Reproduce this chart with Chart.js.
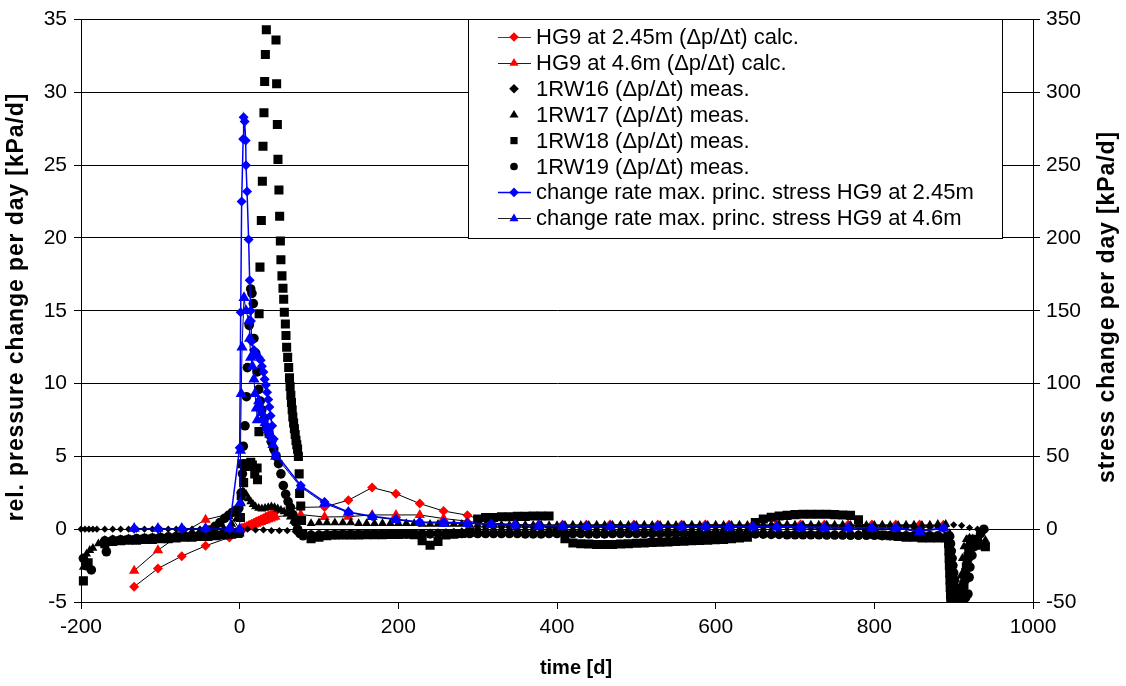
<!DOCTYPE html>
<html><head><meta charset="utf-8">
<script src="https://cdn.jsdelivr.net/npm/chart.js@4/dist/chart.umd.min.js"></script>
<style>html,body{margin:0;padding:0;background:#fff;}#wrap{width:1126px;height:686px;}</style>
</head><body><div id="wrap"><canvas id="c" width="1126" height="686"></canvas></div>
<script>
// ---------- tick labels ----------
const xTicks = [-200, 0, 200, 400, 600, 800, 1000];
const yTicks = [-5, 0, 5, 10, 15, 20, 25, 30, 35];
const y2Ticks = [-50, 0, 50, 100, 150, 200, 250, 300, 350];
const xTitle = 'time [d]';
const yTitle = 'rel. pressure change per day [kPa/d]';
const y2Title = 'stress change per day [kPa/d]';
const seriesNames = [
  'HG9 at 2.45m (\u0394p/\u0394t) calc.',
  'HG9 at 4.6m (\u0394p/\u0394t) calc.',
  '1RW16 (\u0394p/\u0394t) meas.',
  '1RW17 (\u0394p/\u0394t) meas.',
  '1RW18 (\u0394p/\u0394t) meas.',
  '1RW19 (\u0394p/\u0394t) meas.',
  'change rate max. princ. stress HG9 at 2.45m',
  'change rate max. princ. stress HG9 at 4.6m'
];

// ---------- calculated series (HG9) ----------
const calcEarlyDays = [-133, -103, -73, -43, -13];
const calcLateDays = [77,107,137,167,197,227,257,287,317,347,377,407,437,467,497,527,557,587,617,647,677,707,737,767,797,827,857,887];
const calcOnsetDays = [0,3,6,9,12,15,18,21,24,27,30,33,36,39,42,45];

const hg245Early = [-3.95, -2.7, -1.85, -1.14, -0.57];
const hg245Onset = [0.0,0.06,0.12,0.2,0.28,0.36,0.45,0.53,0.6,0.68,0.76,0.85,0.93,1.0,1.08,1.18];
const hg245Late = [1.5,1.53,1.99,2.86,2.44,1.76,1.25,0.96,0.42,0.33,0.3,0.3,0.3,0.32,0.3,0.3,0.3,0.32,0.3,0.3,0.3,0.32,0.3,0.3,0.3,0.3,0.3,0.28];

const hg46Early = [-2.85, -1.44, -0.3, 0.65, 1.05];
const hg46Onset = [0.0,0.04,0.09,0.14,0.2,0.26,0.32,0.38,0.44,0.5,0.56,0.62,0.68,0.74,0.8,0.86];
const hg46Late = [1.0,0.84,0.86,0.98,0.98,0.98,0.73,0.55,0.32,0.26,0.25,0.25,0.25,0.26,0.25,0.25,0.25,0.26,0.25,0.25,0.25,0.26,0.25,0.25,0.25,0.25,0.25,0.24];

// stress change rates (right axis, kPa/d)
const s245Early = [0.3, 0.3, 0.3, 0.3, 0.3];
const s245PeakDays = [0,1.3,2.5,4.4,5,6.3,7.6,8,9.3,11.3,12.6,13.9,14.2,15,18,21,24,26.5,28,30,31.5,33,34.5,36,37.5,39,41,43,45.4];
const s245Peak = [56,149,225,268,283,280,267,250,232,199,171,150,143,129,123,120,118,116,112,108,103,99,94,89,84,78,71,62,52];
const s245Late = [30,18.7,11.9,8.9,6.8,5.0,4.7,4.3,3.5,2.7,2.5,2.4,2.2,2.1,2.0,2.0,1.9,1.9,1.8,1.8,1.7,1.5,1.2,1.0,1.0,1.0,-1.0,0.8];

const s46Early = [0.5, 0.5, 0.5, 0.5, 0.5];
const s46PeakDays = [0,0.5,1,2,3,5.5,8,11.7,12.6,13.9,16,18,19.3,21,22.3,24,26,28,30,32,34,36,38,40,42,45.4];
const s46Peak = [0,18,54,93,125,159,150,143,131,118,112,103,93,83,75,88,84,80,76,73,70,68,65,62,58,50];
const s46Late = [29,17.6,11.5,8.5,6.5,4.5,4.0,4.0,3.0,2.7,2.0,1.8,1.6,1.6,1.5,1.5,1.5,1.5,1.4,1.4,1.4,0.8,0.6,0.6,0.6,0.6,-1.8,0.5];

// ---------- measured series (1RW16..19) ----------
const measDays = [-170,-160,-150,-140,-130,-120,-110,-100,-90,-80,
 -70,-60,-50,-40,-30,-20,-10,0,10,20,
 30,40,50,60,70,80,90,100,110,120,
 130,140,150,160,170,180,190,200,210,220,
 230,240,250,260,270,280,290,300,310,320,
 330,340,350,360,370,380,390,400,410,420,
 430,440,450,460,470,480,490,500,510,520,
 530,540,550,560,570,580,590,600,610,620,
 630,640,650,660,670,680,690,700,710,720,
 730,740,750,760,770,780,790,800,810,820,
 830,840,850,860,870,880,890,900,910,920,
 930,940];

const rw16Rate = [0,0,0,0,0,0,0,0,0,0,
 0,0,0,0,0,0,0.02,0.05,0,-0.05,
 -0.05,-0.1,-0.1,-0.1,-0.15,-0.25,-0.3,-0.3,-0.3,-0.3,
 -0.3,-0.28,-0.28,-0.27,-0.27,-0.26,-0.25,-0.25,-0.24,-0.23,
 -0.22,-0.2,-0.2,-0.18,-0.15,-0.12,-0.1,0.05,0.08,0.1,
 0.1,0.1,0.12,0.12,0.1,0.1,0.1,0.1,0.12,0.12,
 0.1,0.1,0.1,0.12,0.12,0.1,0.1,0.1,0.12,0.12,
 0.1,0.1,0.12,0.12,0.1,0.1,0.12,0.12,0.1,0.1,
 0.12,0.12,0.1,0.1,0.15,0.15,0.15,0.12,0.12,0.1,
 0.1,0.12,0.12,0.1,0.1,0.12,0.12,0.15,0.15,0.12,
 0.12,0.1,0.1,0.12,0.12,0.15,0.2,0.3,0.25,0.1,
 0.0,-0.05];
const rw16StartDays = [-200,-195,-190,-185,-180];
const rw16StartRate = [0,0,0,0,0];

const rw17Rate = [-0.75,-0.7,-0.7,-0.65,-0.65,-0.6,-0.6,-0.55,-0.55,-0.5,
 -0.5,-0.45,-0.4,-0.3,-0.15,0.05,0.35,null,null,null,
 null,null,null,null,null,-0.35,0.4,0.45,0.45,0.45,
 0.45,0.45,0.4,0.4,0.4,0.4,0.4,0.4,0.4,0.4,
 0.35,0.35,0.35,0.35,0.35,0.35,0.3,0.3,0.3,0.3,
 0.3,0.28,0.3,0.3,0.28,0.3,0.25,0.25,0.28,0.3,
 0.28,0.28,0.3,0.28,0.28,0.3,0.28,0.28,0.3,0.28,
 0.28,0.3,0.28,0.28,0.3,0.28,0.28,0.3,0.28,0.28,
 0.3,0.28,0.28,0.3,0.3,0.32,0.32,0.3,0.3,0.3,
 0.3,0.3,0.3,0.3,0.28,0.3,0.28,0.28,0.3,0.28,
 0.28,0.3,0.3,0.28,0.3,0.35,0.35,null,null,null,
 -0.7,-0.75];
const rw17StartDays = [-197,-193,-189,-185,-178];
const rw17StartRate = [-2.6,-1.7,-1.45,-1.3,-1.0];
const rw17OnsetDays = [-4,-1,2,4,6,8,11,14,17,20,24,28,32,36,40,44,48,52,56,60,64,68,72,76];
const rw17OnsetRate = [0.7,1.1,1.8,2.6,2.5,2.4,2.1,1.9,1.7,1.55,1.45,1.4,1.45,1.5,1.55,1.5,1.4,1.3,1.2,1.05,0.85,0.55,0.15,-0.2];
const rw17DropDays = [895,896,897,898,899,900,901,902,903,904,905,906,907,908,909,911,913,916,920,924];
const rw17DropRate = [-0.3,-0.8,-1.3,-1.8,-2.3,-2.8,-3.3,-3.8,-4.3,-4.8,-5.3,-5.3,-4.6,-3.9,-3.2,-2.0,-1.2,-0.7,-0.6,-0.65];

const rw18Rate = [-1.0,-0.85,-0.8,-0.75,-0.75,-0.7,-0.7,-0.65,-0.65,-0.6,
 -0.55,-0.55,-0.5,-0.5,-0.45,-0.4,-0.35,null,null,null,
 null,null,null,null,null,null,-0.65,-0.55,-0.45,-0.4,
 -0.4,-0.4,-0.4,-0.38,-0.38,-0.38,-0.36,-0.36,-0.35,-0.38,
 -0.8,-1.1,-0.85,-0.4,-0.35,-0.3,-0.2,0.7,0.8,0.8,
 0.85,0.85,0.88,0.88,0.9,0.9,0.9,0.0,-0.65,-0.95,
 -1.0,-1.02,-1.05,-1.05,-1.05,-1.02,-1.0,-0.97,-0.95,-0.92,
 -0.9,-0.88,-0.85,-0.83,-0.8,-0.78,-0.76,-0.73,-0.7,-0.66,
 -0.6,-0.55,0.45,0.7,0.82,0.9,0.95,1.0,1.02,1.02,
 1.02,1.02,1.0,0.98,0.95,0.65,0.05,-0.35,-0.4,-0.45,
 -0.5,-0.55,-0.55,-0.6,-0.6,-0.6,-0.6,null,null,null,
 -1.05,-1.2];
const rw18StartDays = [-197,-191];
const rw18StartRate = [-3.55,-2.3];
const rw18PeakDays = [-2,0,1,2,3,5,7,9,12,14,16,19,22,22.5,24.3,24.5,25.6,27.3,28.6,29.4,30.6,31.5,32.4,33.6,
 45.8,46.6,47.5,48.3,49.5,50.4,51.3,52,53.3,54.6,55.5,56.3,57.6,58.4,59.2,60.5,61.8,62.8,63.6,64.5,65.3,66.2,67,68,69,70,71,72,73,74,75,75.6,77,78,79.5];
const rw18PeakRate = [-0.3,-0.2,0.8,2.3,4.5,3.2,4.4,4.5,4.3,4.6,4.4,3.8,4.2,3.4,6.7,14.8,18.0,21.2,23.9,26.3,28.6,30.75,32.6,34.3,
 33.6,30.6,27.8,25.4,23.3,21.5,19.8,18.5,17.4,16.55,15.8,14.9,14.1,13.3,12.5,11.8,11.1,10.4,9.8,9.2,8.7,8.2,7.7,7.3,6.9,6.5,6.1,5.8,5.5,5.0,3.8,2.45,1.6,0.6,-0.3];
const rw18DropDays = [893,893.5,894,894.3,894.6,895,895.3,895.6,896,896.3,896.6,897,899,901,903,905,907,909,910,911,912,913,914,915,916,917,918,919,920,921,922,923,924,926,930,935];
const rw18DropRate = [-0.5,-1.0,-1.5,-2.0,-2.5,-3.0,-3.5,-4.0,-4.5,-5.0,-5.4,-5.4,-5.4,-5.4,-5.4,-5.4,-5.4,-5.3,-5.0,-4.6,-4.2,-3.8,-3.4,-3.0,-2.6,-2.2,-1.9,-1.6,-1.3,-1.0,-0.8,-0.7,-0.8,-1.0,-1.05,-1.1];

const rw19Rate = [-0.8,-0.75,-0.72,-0.7,-0.65,-0.62,-0.6,-0.55,-0.52,-0.5,
 -0.45,-0.4,-0.35,null,null,null,null,null,null,null,
 null,null,null,null,null,null,-0.4,-0.4,-0.38,-0.38,
 -0.36,-0.36,-0.35,-0.35,-0.34,-0.34,-0.33,-0.33,-0.32,-0.32,
 -0.32,-0.32,-0.3,-0.3,-0.3,-0.3,-0.3,-0.3,-0.3,-0.3,
 -0.3,-0.3,-0.3,-0.32,-0.32,-0.32,-0.3,-0.3,-0.3,-0.3,
 -0.3,-0.32,-0.32,-0.32,-0.3,-0.3,-0.3,-0.3,-0.3,-0.3,
 -0.3,-0.3,-0.3,-0.3,-0.32,-0.32,-0.32,-0.3,-0.3,-0.3,
 -0.3,-0.3,-0.32,-0.34,-0.36,-0.36,-0.38,-0.38,-0.38,-0.38,
 -0.38,-0.4,-0.4,-0.4,-0.42,-0.42,-0.42,-0.42,-0.44,-0.44,
 -0.44,-0.45,-0.45,-0.45,-0.45,-0.45,null,null,null,null,
 null,null];
const rw19StartDays = [-197,-194,-187,-168];
const rw19StartRate = [-2.0,-2.5,-2.8,-1.55];
const rw19PeakDays = [-45,-38,-31,-25,-19,-14,-9,-5,-1,2,3.5,4.6,6.7,8.6,9.7,12,13.9,15.5,17.2,18,20.2,22,24,26,28,31,34,37,40,43,46,49,52,55,58,61,64,67,70,73,76,80];
const rw19PeakRate = [-0.25,-0.05,0.2,0.45,0.75,0.95,1.15,1.3,1.45,2.5,3.8,5.7,7.1,9.1,11.1,14.0,16.5,16.2,15.5,13.1,12.1,10.8,9.6,8.8,8.2,7.6,7.0,6.5,6.0,5.5,5.0,4.5,3.8,3.0,2.4,1.9,1.5,1.0,0.5,0.0,-0.3,-0.45];
const rw19DropDays = [895,896,897,898,899,900,901,902,903,904,906,908,910,912,915,918,919.5,920.5,923,926,930,934,938];
const rw19DropRate = [-0.5,-1.0,-1.5,-2.0,-2.5,-3.0,-3.5,-4.0,-4.5,-5.0,-5.4,-5.4,-5.2,-5.0,-4.7,-4.45,-3.3,-2.6,-1.8,-1.2,-0.7,-0.3,0.0];

// ---------- helpers ----------
function pts(days, vals) {
  const out = [];
  for (let i = 0; i < days.length; i++) {
    if (vals[i] !== null && vals[i] !== undefined) out.push({x: days[i], y: vals[i]});
  }
  return out;
}

const FONT = '"Liberation Sans", Arial, Helvetica, sans-serif';
Chart.defaults.font.family = FONT;
Chart.defaults.font.size = 21;
Chart.defaults.color = '#000';

const RED = '#FF0000', BLUE = '#0000FF', BLACK = '#000000';
const clipBottom = {left: 10, top: 10, right: 10, bottom: 0};

const datasets = [
  {
    label: seriesNames[7], yAxisID: 'y2', order: 0, showLine: true,
    data: [...pts(calcEarlyDays, s46Early), ...pts(s46PeakDays, s46Peak), ...pts(calcLateDays, s46Late)],
    borderColor: '#00008B', borderWidth: 1, pointStyle: 'triangle', pointRadius: 6.5,
    pointBackgroundColor: BLUE, pointBorderColor: BLUE, pointBorderWidth: 0
  },
  {
    label: seriesNames[6], yAxisID: 'y2', order: 1, showLine: true,
    data: [...pts(calcEarlyDays, s245Early), ...pts(s245PeakDays, s245Peak), ...pts(calcLateDays, s245Late)],
    borderColor: BLUE, borderWidth: 1.5, pointStyle: 'rectRot', pointRadius: 5,
    pointBackgroundColor: BLUE, pointBorderColor: BLUE, pointBorderWidth: 0
  },
  {
    label: seriesNames[5], yAxisID: 'y', order: 2, showLine: false, clip: clipBottom,
    data: [...pts(rw19StartDays, rw19StartRate), ...pts(measDays, rw19Rate), ...pts(rw19PeakDays, rw19PeakRate), ...pts(rw19DropDays, rw19DropRate)],
    pointStyle: 'circle', pointRadius: 4.8, pointBackgroundColor: BLACK, pointBorderColor: BLACK, pointBorderWidth: 0
  },
  {
    label: seriesNames[4], yAxisID: 'y', order: 3, showLine: false, clip: clipBottom,
    data: [...pts(rw18StartDays, rw18StartRate), ...pts(measDays, rw18Rate), ...pts(rw18PeakDays, rw18PeakRate), ...pts(rw18DropDays, rw18DropRate)],
    pointStyle: 'rect', pointRadius: 6.4, pointBackgroundColor: BLACK, pointBorderColor: BLACK, pointBorderWidth: 0
  },
  {
    label: seriesNames[3], yAxisID: 'y', order: 4, showLine: false, clip: clipBottom,
    data: [...pts(rw17StartDays, rw17StartRate), ...pts(measDays, rw17Rate), ...pts(rw17OnsetDays, rw17OnsetRate), ...pts(rw17DropDays, rw17DropRate)],
    pointStyle: 'triangle', pointRadius: 5.2, pointBackgroundColor: BLACK, pointBorderColor: BLACK, pointBorderWidth: 0
  },
  {
    label: seriesNames[2], yAxisID: 'y', order: 5, showLine: false, clip: clipBottom,
    data: [...pts(rw16StartDays, rw16StartRate), ...pts(measDays, rw16Rate)],
    pointStyle: 'rectRot', pointRadius: 3.6, pointBackgroundColor: BLACK, pointBorderColor: BLACK, pointBorderWidth: 0
  },
  {
    label: seriesNames[1], yAxisID: 'y', order: 6, showLine: true,
    data: [...pts(calcEarlyDays, hg46Early), ...pts(calcOnsetDays, hg46Onset), ...pts(calcLateDays, hg46Late)],
    borderColor: BLACK, borderWidth: 1, pointStyle: 'triangle', pointRadius: 6,
    pointBackgroundColor: RED, pointBorderColor: RED, pointBorderWidth: 0
  },
  {
    label: seriesNames[0], yAxisID: 'y', order: 7, showLine: true,
    data: [...pts(calcEarlyDays, hg245Early), ...pts(calcOnsetDays, hg245Onset), ...pts(calcLateDays, hg245Late)],
    borderColor: BLACK, borderWidth: 1, pointStyle: 'rectRot', pointRadius: 5,
    pointBackgroundColor: RED, pointBorderColor: RED, pointBorderWidth: 0
  }
];

// legend entries: [marker, markerColor, lineColor|null]
const legendStyles = [
  ['rectRot', RED, '#404040'],
  ['triangle', RED, '#202020'],
  ['rectRot', BLACK, null],
  ['triangle', BLACK, null],
  ['rect', BLACK, null],
  ['circle', BLACK, null],
  ['rectRot', BLUE, BLUE],
  ['triangle', BLUE, '#202020']
];

function drawMarker(ctx, style, x, y, r, color) {
  ctx.fillStyle = color;
  ctx.beginPath();
  if (style === 'rectRot') {
    ctx.moveTo(x - r, y); ctx.lineTo(x, y - r); ctx.lineTo(x + r, y); ctx.lineTo(x, y + r);
  } else if (style === 'triangle') {
    ctx.moveTo(x, y - r); ctx.lineTo(x + r * 0.95, y + r * 0.6); ctx.lineTo(x - r * 0.95, y + r * 0.6);
  } else if (style === 'rect') {
    ctx.rect(x - r * 0.75, y - r * 0.75, r * 1.5, r * 1.5);
  } else {
    ctx.arc(x, y, r * 0.8, 0, Math.PI * 2);
  }
  ctx.closePath();
  ctx.fill();
}

const overlay = {
  id: 'overlay',
  afterDraw(chart) {
    const ctx = chart.ctx;
    ctx.save();
    ctx.fillStyle = '#000';
    ctx.textAlign = 'center';
    ctx.textBaseline = 'middle';
    ctx.font = 'bold 20px ' + FONT;
    ctx.fillText(xTitle, 576, 668);
    ctx.font = 'bold 23px ' + FONT;
    if ('letterSpacing' in ctx) ctx.letterSpacing = '0.9px';
    ctx.save(); ctx.translate(17, 307); ctx.rotate(-Math.PI / 2); ctx.fillText(yTitle, 0, 0); ctx.restore();
    ctx.save(); ctx.translate(1108, 307); ctx.rotate(-Math.PI / 2); ctx.fillText(y2Title, 0, 0); ctx.restore();
    if ('letterSpacing' in ctx) ctx.letterSpacing = '0px';

    // legend box
    const bx = 468, by = 19, bw = 534, bh = 219;
    ctx.fillStyle = '#fff';
    ctx.fillRect(bx, by, bw, bh);
    ctx.strokeStyle = '#000'; ctx.lineWidth = 1;
    ctx.strokeRect(bx + 0.5, by + 0.5, bw, bh);
    ctx.font = '22px ' + FONT;
    ctx.textAlign = 'left';
    for (let i = 0; i < seriesNames.length; i++) {
      const y = 37 + i * 25.9;
      const st = legendStyles[i];
      if (st[2]) {
        ctx.strokeStyle = st[2]; ctx.lineWidth = st[2] === BLUE ? 1.5 : 1;
        ctx.beginPath(); ctx.moveTo(498, Math.round(y) + 0.5); ctx.lineTo(531, Math.round(y) + 0.5); ctx.stroke();
      }
      drawMarker(ctx, st[0], 514, y, 4.8, st[1]);
      ctx.fillStyle = '#000';
      ctx.fillText(seriesNames[i], 536, y + 1);
    }
    ctx.restore();
  }
};

new Chart(document.getElementById('c'), {
  type: 'scatter',
  data: { datasets },
  options: {
    responsive: false, animation: false, devicePixelRatio: 1,
    layout: { padding: { top: 18, left: 0, right: 0, bottom: 0 } },
    plugins: { legend: { display: false }, tooltip: { enabled: false } },
    scales: {
      x: {
        type: 'linear', position: 'bottom', min: -200, max: 1000,
        afterBuildTicks: s => { s.ticks = xTicks.map(v => ({ value: v })); },
        afterFit: s => { s.height = 84; },
        ticks: { callback: v => String(v), padding: 6, maxRotation: 0, font: { size: 21 }, color: '#000' },
        grid: { drawOnChartArea: false, drawTicks: true, tickLength: 7, color: '#000', lineWidth: 1 },
        border: { color: '#000', width: 1 }
      },
      y: {
        type: 'linear', position: 'left', min: -5, max: 35,
        afterBuildTicks: s => { s.ticks = yTicks.map(v => ({ value: v })); },
        afterFit: s => { s.width = 81; },
        ticks: { callback: v => String(v), padding: 7, font: { size: 21 }, color: '#000' },
        grid: { drawOnChartArea: true, drawTicks: true, tickLength: 7, color: '#000', lineWidth: 1 },
        border: { color: '#000', width: 1 }
      },
      y2: {
        type: 'linear', position: 'right', min: -50, max: 350,
        afterBuildTicks: s => { s.ticks = y2Ticks.map(v => ({ value: v })); },
        afterFit: s => { s.width = 93; },
        ticks: { callback: v => String(v), padding: 6, font: { size: 21 }, color: '#000' },
        grid: { drawOnChartArea: false, drawTicks: true, tickLength: 7, color: '#000', lineWidth: 1 },
        border: { color: '#000', width: 1 }
      }
    }
  },
  plugins: [overlay]
});
</script></body></html>
